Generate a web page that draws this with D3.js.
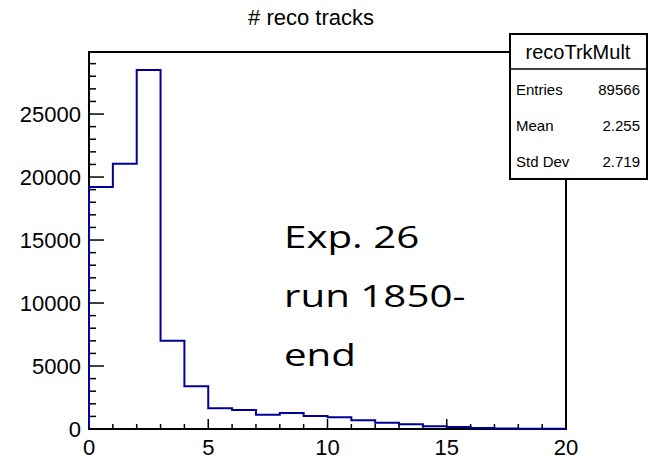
<!DOCTYPE html>
<html>
<head>
<meta charset="utf-8">
<script src="https://cdn.jsdelivr.net/npm/d3@7"></script>
<style>
  body { margin: 0; background: #fff; }
  svg text { font-family: "Liberation Sans", Arial, sans-serif; fill: #000; }
</style>
</head>
<body>
<svg id="chart" width="648" height="459"></svg>
<script>
// bin contents of recoTrkMult, unit bins from 0 to 20
const binEdges = d3.range(0, 21);
const binCounts = [19200, 21050, 28500, 7000, 3400, 1640, 1510, 1140, 1270, 1030,
                   925, 690, 500, 370, 210, 160, 80, 40, 20, 10];
const xTicks = [0, 5, 10, 15, 20];
const yTicks = [0, 5000, 10000, 15000, 20000, 25000];
const statNames = ["Entries", "Mean", "Std Dev"];
const statValues = ["89566", "2.255", "2.719"];
const noteLines = ["Exp. 26", "run 1850-", "end"];

const svg = d3.select("#chart");
const frame = { left: 89, top: 52, right: 566, bottom: 429 };

const x = d3.scaleLinear().domain([0, 20]).range([frame.left, frame.right]);
const yMax = d3.max(binCounts) * 1.05;
const y = d3.scaleLinear().domain([0, yMax]).range([frame.bottom, frame.top]);

// title
svg.append("text")
  .attr("x", 311).attr("y", 25)
  .attr("text-anchor", "middle")
  .style("font-size", "22px")
  .text("# reco tracks");

// frame
svg.append("rect")
  .attr("x", frame.left).attr("y", frame.top)
  .attr("width", frame.right - frame.left).attr("height", frame.bottom - frame.top)
  .attr("fill", "none").attr("stroke", "#000").attr("stroke-width", 2);

// minor + major ticks on x
const xAxis = svg.append("g");
xAxis.selectAll("line.minor")
  .data(d3.range(0, 21))
  .join("line")
  .attr("x1", d => x(d)).attr("x2", d => x(d))
  .attr("y1", frame.bottom).attr("y2", d => frame.bottom - (d % 5 === 0 ? 10 : 5))
  .attr("stroke", "#000").attr("stroke-width", 1.5);
xAxis.selectAll("text")
  .data(xTicks)
  .join("text")
  .attr("x", d => x(d)).attr("y", 455)
  .attr("text-anchor", "middle")
  .style("font-size", "22px")
  .text(d => d);

// minor + major ticks on y
const yAxis = svg.append("g");
yAxis.selectAll("line")
  .data(d3.range(0, Math.floor(yMax / 1000) + 1).map(d => d * 1000))
  .join("line")
  .attr("x1", frame.left).attr("x2", d => frame.left + (d % 5000 === 0 ? 15 : 7))
  .attr("y1", d => y(d)).attr("y2", d => y(d))
  .attr("stroke", "#000").attr("stroke-width", 1.5);
yAxis.selectAll("text")
  .data(yTicks)
  .join("text")
  .attr("x", 81).attr("y", d => y(d) + 8)
  .attr("text-anchor", "end")
  .style("font-size", "22px")
  .text(d => d);

// histogram outline as a step path
const pts = [[x(0), y(0)]];
binCounts.forEach((c, i) => {
  pts.push([x(binEdges[i]), y(c)]);
  pts.push([x(binEdges[i + 1]), y(c)]);
});
pts.push([x(20), y(0)]);
svg.append("path")
  .attr("d", d3.line()(pts))
  .attr("fill", "none")
  .attr("stroke", "#000099")
  .attr("stroke-width", 2);

// stats box
const box = svg.append("g");
box.append("rect")
  .attr("x", 510).attr("y", 34).attr("width", 137).attr("height", 145)
  .attr("fill", "#fff").attr("stroke", "#000").attr("stroke-width", 2);
box.append("line")
  .attr("x1", 510).attr("x2", 647).attr("y1", 69).attr("y2", 69)
  .attr("stroke", "#000").attr("stroke-width", 1.5);
box.append("text")
  .attr("x", 578).attr("y", 59)
  .attr("text-anchor", "middle")
  .style("font-size", "20px")
  .text("recoTrkMult");
statNames.forEach((n, i) => {
  const ty = 95 + i * 36;
  box.append("text").attr("x", 516).attr("y", ty)
    .style("font-size", "15px").text(n);
  box.append("text").attr("x", 640).attr("y", ty)
    .attr("text-anchor", "end")
    .style("font-size", "15px").text(statValues[i]);
});

// run annotation, drawn a bit wide
svg.append("g")
  .attr("transform", "translate(284,0) scale(1.3,1)")
  .selectAll("text")
  .data(noteLines)
  .join("text")
  .attr("x", 0).attr("y", (d, i) => 248 + i * 59)
  .style("font-family", "'Open Sans', sans-serif")
  .style("font-size", "31px")
  .text(d => d);
</script>
</body>
</html>
